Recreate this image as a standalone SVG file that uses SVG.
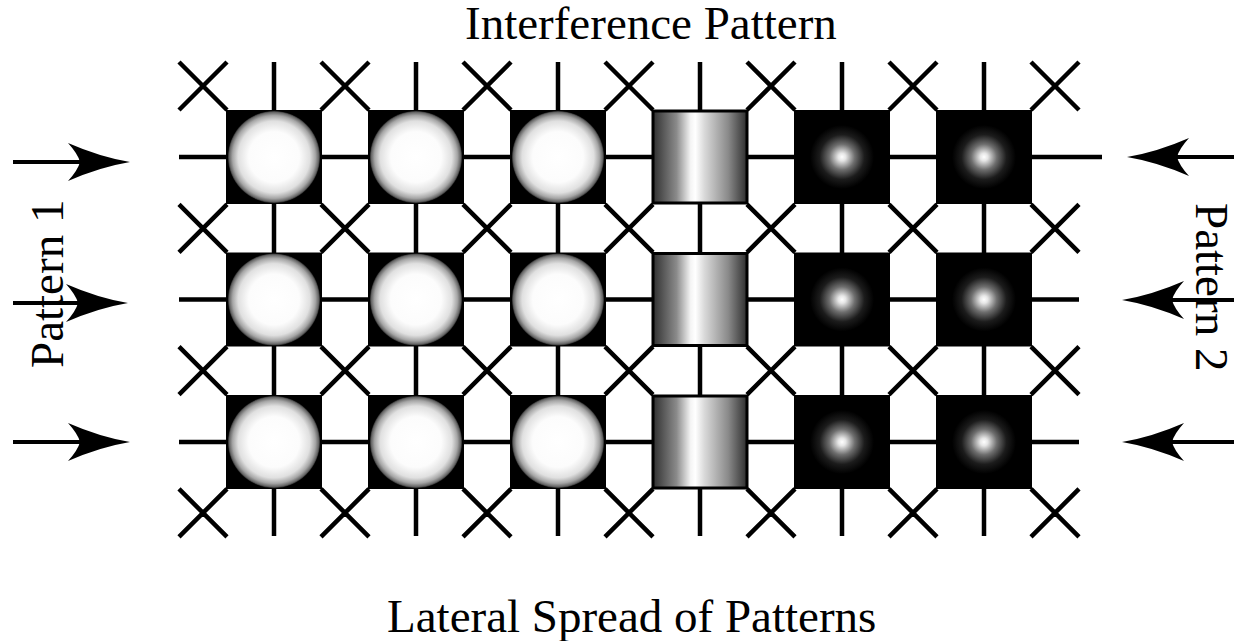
<svg xmlns="http://www.w3.org/2000/svg" xmlns:xlink="http://www.w3.org/1999/xlink" width="1234" height="641" viewBox="0 0 1234 641">
  <style>
    .grid line { stroke: #000; stroke-width: 4.5; stroke-linecap: butt; }
    .shaft { stroke: #000; stroke-width: 4; }
    .head { fill: #000; }
    .label { font-family: "Liberation Serif", "Times New Roman", serif; font-size: 47px; fill: #000; }
    .cell { fill: #000; }
    .bar { fill: url(#cylinder); stroke: #000; stroke-width: 3; }
    .ball { fill: url(#sphere); }
    .glow { fill: url(#spot); }
  </style>
  <defs>
    <radialGradient id="sphere" cx="50%" cy="50%" r="50%">
      <stop offset="0" stop-color="#ffffff"/>
      <stop offset="0.55" stop-color="#fcfcfc"/>
      <stop offset="0.78" stop-color="#e0e0e0"/>
      <stop offset="0.9" stop-color="#a6a6a6"/>
      <stop offset="0.97" stop-color="#666666"/>
      <stop offset="1" stop-color="#2a2a2a"/>
    </radialGradient>
    <linearGradient id="cylinder" x1="0" y1="0" x2="1" y2="0">
      <stop offset="0" stop-color="#303030"/>
      <stop offset="0.25" stop-color="#8a8a8a"/>
      <stop offset="0.4" stop-color="#f4f4f4"/>
      <stop offset="0.45" stop-color="#ffffff"/>
      <stop offset="0.55" stop-color="#d8d8d8"/>
      <stop offset="0.8" stop-color="#8a8a8a"/>
      <stop offset="1" stop-color="#2e2e2e"/>
    </linearGradient>
    <radialGradient id="spot" cx="50%" cy="50%" r="50%">
      <stop offset="0" stop-color="#ffffff"/>
      <stop offset="0.12" stop-color="#e6e6e6"/>
      <stop offset="0.4" stop-color="#6e6e6e"/>
      <stop offset="0.7" stop-color="#1c1c1c"/>
      <stop offset="1" stop-color="#000000"/>
    </radialGradient>
    <!-- barbed arrowhead, tip at origin, pointing right -->
    <path id="barb" class="head" d="M0,0 Q-30,-5 -62,-19 Q-52,-8 -50,0 Q-52,8 -62,19 Q-30,5 0,0 Z"/>
    <!-- node shapes centred on origin -->
    <g id="sphereCell">
      <rect class="cell" x="-48" y="-47" width="96" height="94"/>
      <circle class="ball" cx="0" cy="0" r="46"/>
    </g>
    <g id="barCell">
      <rect class="bar" x="-47" y="-46" width="94" height="92"/>
    </g>
    <g id="spotCell">
      <rect class="cell" x="-48" y="-47" width="96" height="94"/>
      <circle class="glow" cx="0" cy="0" r="32"/>
    </g>
  </defs>

  <rect width="1234" height="641" fill="#fff"/>

  <!-- lattice of connectors -->
  <g id="connectors" class="grid">
    <!-- horizontal rows -->
    <line x1="179" y1="157" x2="1102" y2="157"/>
    <line x1="179" y1="299.5" x2="1079" y2="299.5"/>
    <line x1="179" y1="442" x2="1079" y2="442"/>
    <!-- vertical columns -->
    <line x1="274" y1="62" x2="274" y2="536"/>
    <line x1="416" y1="62" x2="416" y2="536"/>
    <line x1="558" y1="62" x2="558" y2="536"/>
    <line x1="700" y1="62" x2="700" y2="536"/>
    <line x1="842" y1="62" x2="842" y2="536"/>
    <line x1="984" y1="62" x2="984" y2="536"/>
    <!-- crosses between cells -->
    <g id="crosses">
      <path id="xrow" d="M179,62 L227,110 M227,62 L179,110 M321,62 L369,110 M369,62 L321,110 M463,62 L511,110 M511,62 L463,110 M605,62 L653,110 M653,62 L605,110 M747,62 L795,110 M795,62 L747,110 M889,62 L937,110 M937,62 L889,110 M1031,62 L1079,110 M1079,62 L1031,110" fill="none" stroke="#000" stroke-width="4.5"/>
      <use xlink:href="#xrow" transform="translate(0,142.3)"/>
      <use xlink:href="#xrow" transform="translate(0,284.6)"/>
      <use xlink:href="#xrow" transform="translate(0,426.9)"/>
    </g>
  </g>

  <!-- row 1 -->
  <g id="n-1-1"><use xlink:href="#sphereCell" transform="translate(274,157)"/></g>
  <g id="n-1-2"><use xlink:href="#sphereCell" transform="translate(416,157)"/></g>
  <g id="n-1-3"><use xlink:href="#sphereCell" transform="translate(558,157)"/></g>
  <g id="n-1-4"><use xlink:href="#barCell" transform="translate(700,157)"/></g>
  <g id="n-1-5"><use xlink:href="#spotCell" transform="translate(842,157)"/></g>
  <g id="n-1-6"><use xlink:href="#spotCell" transform="translate(984,157)"/></g>
  <!-- row 2 -->
  <g id="n-2-1"><use xlink:href="#sphereCell" transform="translate(274,299.5)"/></g>
  <g id="n-2-2"><use xlink:href="#sphereCell" transform="translate(416,299.5)"/></g>
  <g id="n-2-3"><use xlink:href="#sphereCell" transform="translate(558,299.5)"/></g>
  <g id="n-2-4"><use xlink:href="#barCell" transform="translate(700,299.5)"/></g>
  <g id="n-2-5"><use xlink:href="#spotCell" transform="translate(842,299.5)"/></g>
  <g id="n-2-6"><use xlink:href="#spotCell" transform="translate(984,299.5)"/></g>
  <!-- row 3 -->
  <g id="n-3-1"><use xlink:href="#sphereCell" transform="translate(274,442)"/></g>
  <g id="n-3-2"><use xlink:href="#sphereCell" transform="translate(416,442)"/></g>
  <g id="n-3-3"><use xlink:href="#sphereCell" transform="translate(558,442)"/></g>
  <g id="n-3-4"><use xlink:href="#barCell" transform="translate(700,442)"/></g>
  <g id="n-3-5"><use xlink:href="#spotCell" transform="translate(842,442)"/></g>
  <g id="n-3-6"><use xlink:href="#spotCell" transform="translate(984,442)"/></g>

  <!-- incoming waves -->
  <g id="arrows">
    <line class="shaft" x1="13" y1="162" x2="85" y2="162"/>
    <use xlink:href="#barb" transform="translate(130,162)"/>
    <line class="shaft" x1="13" y1="303" x2="85" y2="303"/>
    <use xlink:href="#barb" transform="translate(128,303)"/>
    <line class="shaft" x1="13" y1="442" x2="85" y2="442"/>
    <use xlink:href="#barb" transform="translate(130,442)"/>

    <line class="shaft" x1="1172" y1="157" x2="1234" y2="157"/>
    <use xlink:href="#barb" transform="translate(1127,157) scale(-1,1)"/>
    <line class="shaft" x1="1170" y1="300" x2="1234" y2="300"/>
    <use xlink:href="#barb" transform="translate(1122,300) scale(-1,1)"/>
    <line class="shaft" x1="1170" y1="442" x2="1234" y2="442"/>
    <use xlink:href="#barb" transform="translate(1122,442) scale(-1,1)"/>
  </g>

  <!-- labels -->
  <g id="labels">
    <text class="label" x="465" y="39">Interference Pattern</text>
    <text class="label" x="387" y="632">Lateral Spread of Patterns</text>
    <text class="label" transform="translate(63,368) rotate(-90)">Pattern 1</text>
    <text class="label" transform="translate(1196,203) rotate(90)">Pattern 2</text>
  </g>
</svg>
